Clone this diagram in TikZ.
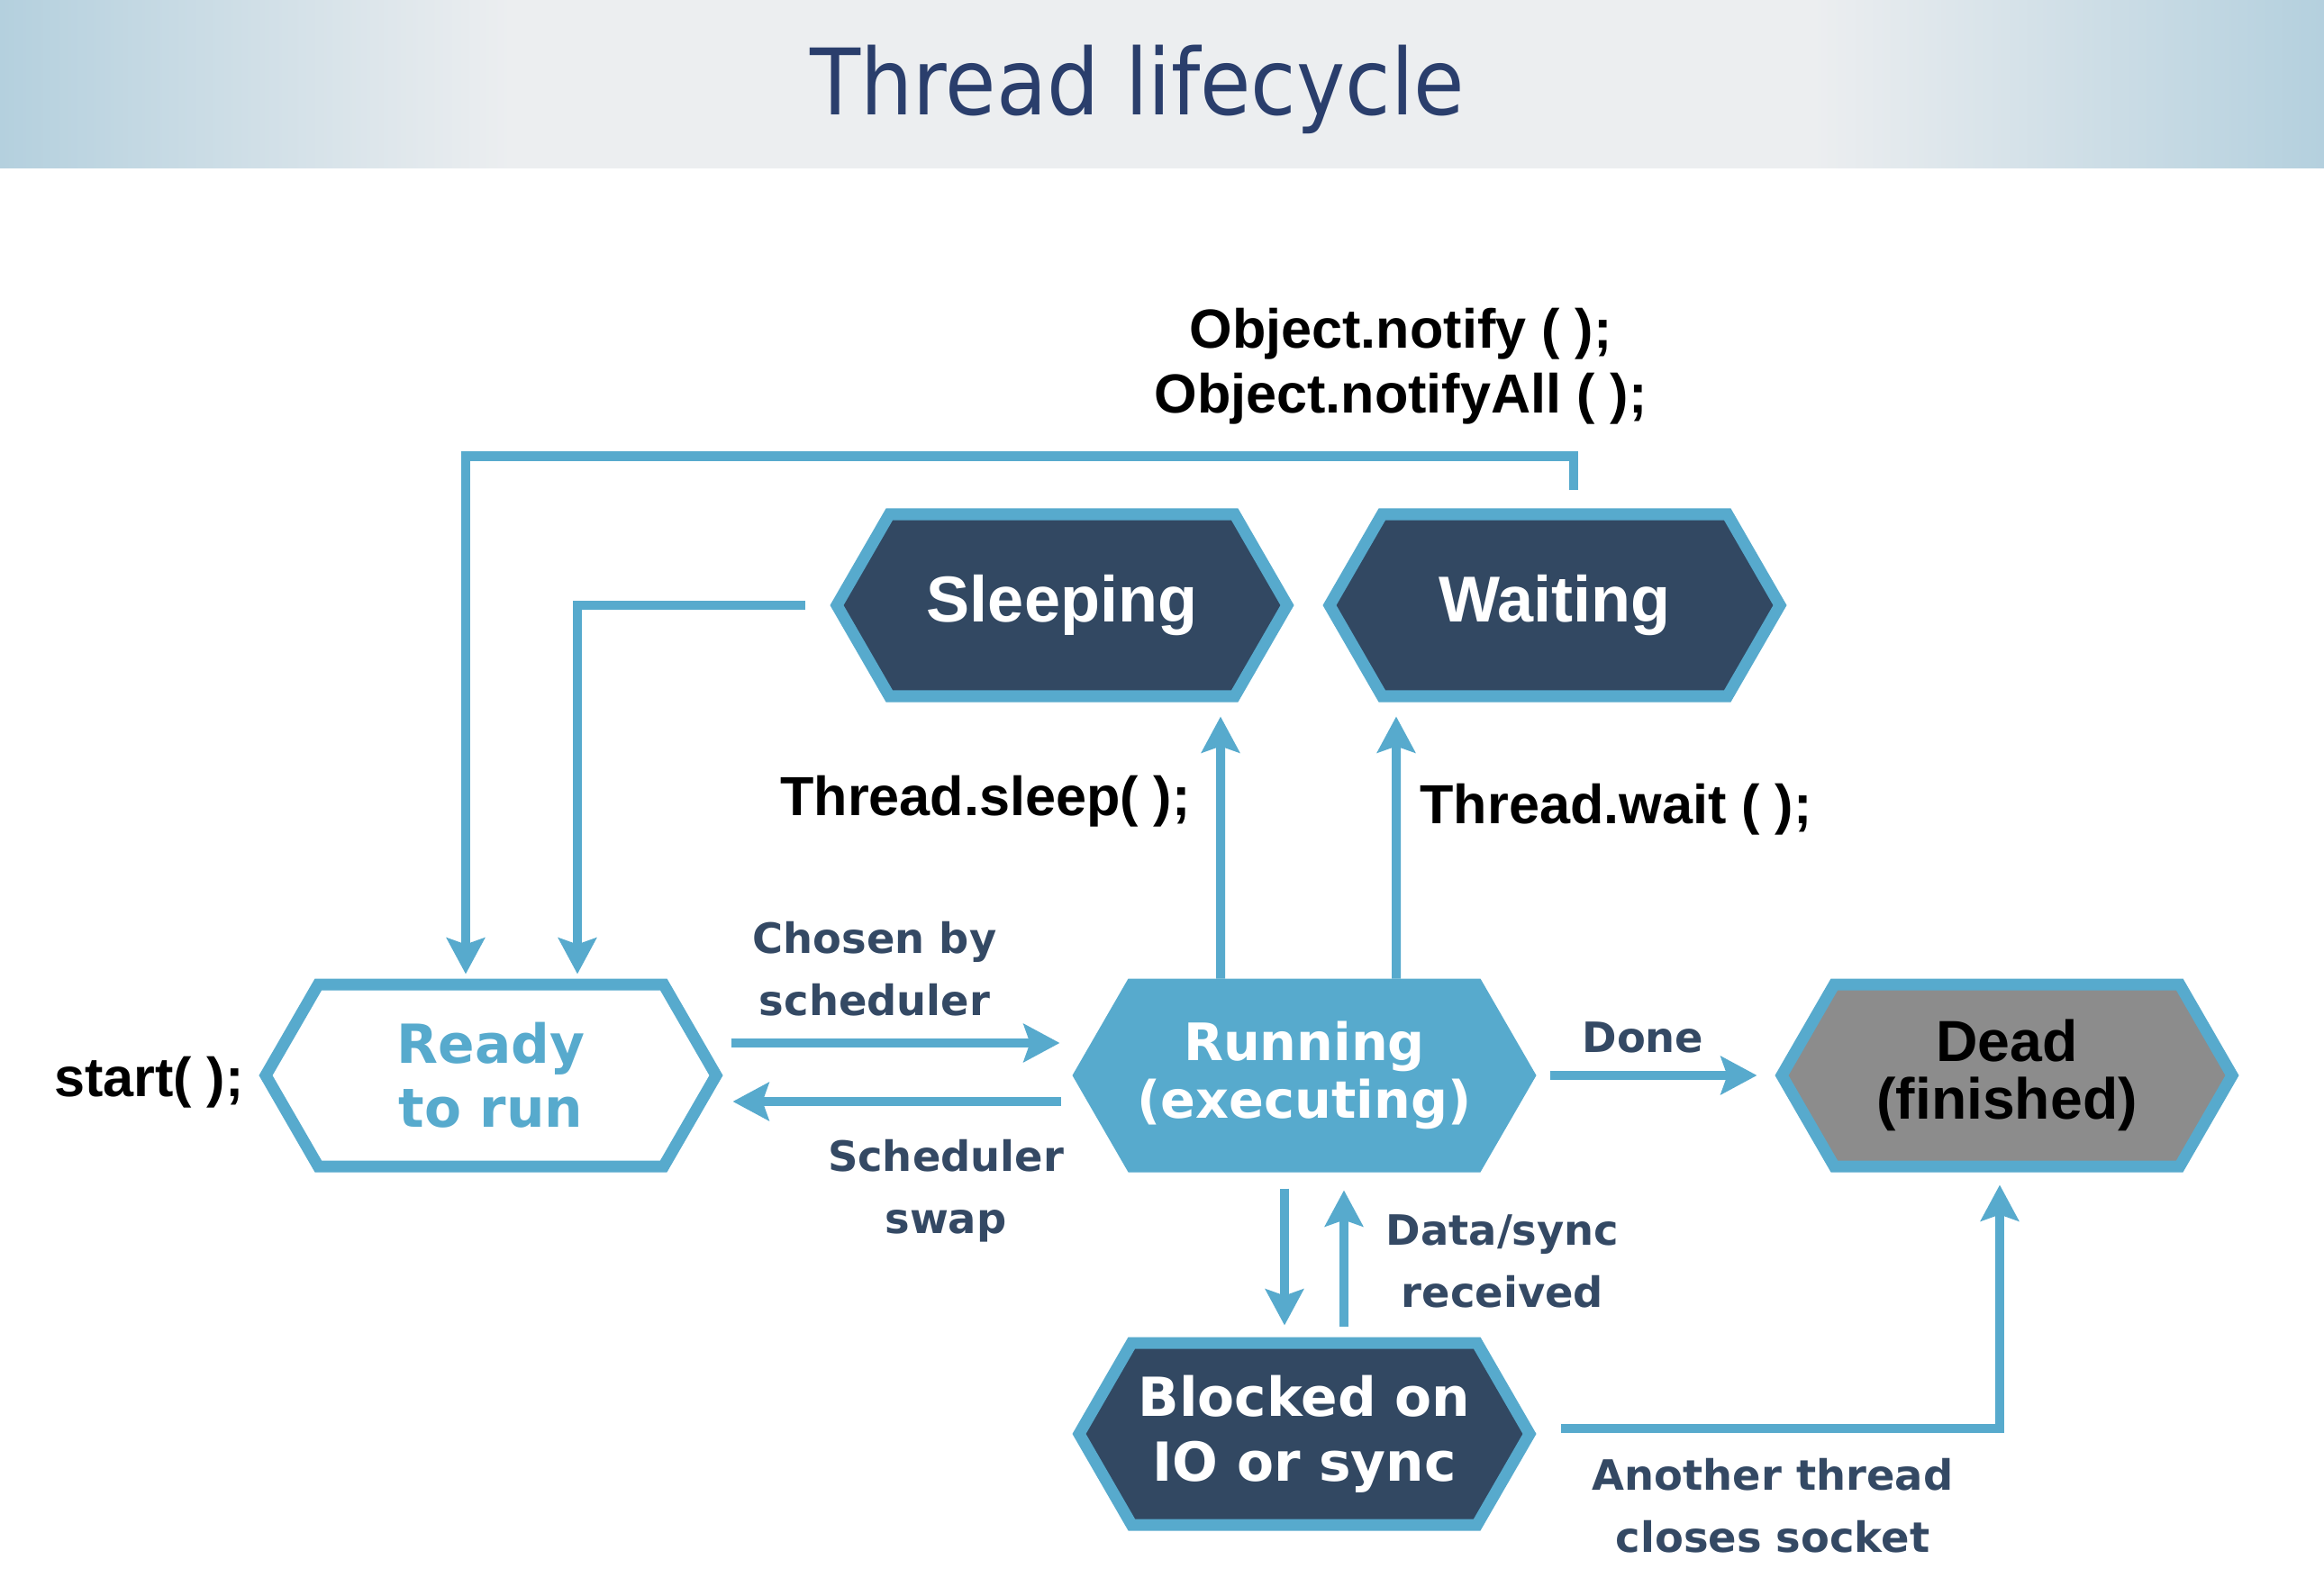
\documentclass[tikz,border=0pt]{standalone}
\usepackage{fontspec}
\setmainfont{Liberation Sans}
\newfontfamily\labelfont{DejaVu Sans}
\newfontfamily\boxfont{DejaVu Sans}
\newfontfamily\titlefont{DejaVu Sans Condensed}
\usepackage{tikz}
\usetikzlibrary{shapes.symbols, arrows.meta, positioning, calc}
\definecolor{tlblue}{RGB}{87,170,205}
\definecolor{tlnavy}{RGB}{50,72,98}
\definecolor{tltext}{RGB}{52,73,100}
\definecolor{tltitle}{RGB}{42,62,108}
\definecolor{tlgray}{RGB}{140,140,140}
\definecolor{bandedge}{RGB}{180,208,222}
\definecolor{bandmid}{RGB}{236,238,240}
\pgfdeclarehorizontalshading{bandshade}{100bp}{color(0bp)=(bandedge); color(25bp)=(bandedge);
  color(36bp)=(bandmid); color(64bp)=(bandmid); color(75bp)=(bandedge); color(100bp)=(bandedge)}
\tikzset{
  hexnode/.style={signal, signal to=east and west, signal pointer angle=120,
    minimum width=5.0cm, minimum height=2.02cm, align=center,
    draw=tlblue, line width=3.7pt, inner sep=0pt},
  readyhex/.style={hexnode, fill=white, text=tlblue,
    font=\boxfont\bfseries\fontsize{17}{20.2}\selectfont},
  runhex/.style={hexnode, fill=tlblue, text=white,
    font=\boxfont\bfseries\fontsize{16.3}{18.4}\selectfont},
  blockhex/.style={hexnode, fill=tlnavy, text=white,
    font=\boxfont\bfseries\fontsize{17}{20.5}\selectfont},
  sleephex/.style={hexnode, fill=tlnavy, text=white,
    font=\bfseries\fontsize{20.5}{24}\selectfont},
  deadhex/.style={hexnode, fill=tlgray, text=black,
    font=\bfseries\fontsize{18.3}{18.2}\selectfont},
  arrow/.style={-{Stealth[length=4mm, width=4.2mm, inset=0.7mm]}, line width=2.85pt, color=tlblue},
  codelbl/.style={font=\bfseries\fontsize{17.4}{20.5}\selectfont, align=center, inner sep=0pt},
  navylbl/.style={font=\labelfont\bfseries\fontsize{13.2}{19.6}\selectfont, text=tltext,
    align=center, inner sep=0pt},
  titletext/.style={font=\titlefont\fontsize{29}{35}\selectfont, text=tltitle, inner sep=0pt}
}

\begin{document}
\begin{tikzpicture}[node distance=0.3cm and 0.5cm]
  \useasboundingbox (0,0) rectangle (25.8,17.71);
  \fill[white] (0,0) rectangle (25.8,17.71);
  \fill[shading=bandshade] (0,15.84) rectangle (25.8,17.71);
  \node[titletext, anchor=base] (title) at (12.63,16.43) {Thread lifecycle};

  \node[readyhex] (rd) at (5.45,5.77) {Ready\\to run};
  \node[runhex] (rn) at (14.48,5.77) {Running\\(executing)};
  \node[deadhex] (dd) at (22.28,5.77) {Dead\\(finished)};
  \node[sleephex] (sl) at (11.79,10.99) {Sleeping};
  \node[sleephex] (wt) at (17.26,10.99) {Waiting};
  \node[blockhex] (bl) at (14.48,1.79) {Blocked on\\IO or sync};

  \node[codelbl, left=0.16cm of rd, yshift=-0.8mm] (st) {start( );};
  \node[codelbl] (ntf) at (15.55,13.64) {Object.notify ( );\\Object.notifyAll ( );};
  \node[codelbl] (slp) at (10.94,8.81) {Thread.sleep( );};
  \node[codelbl] (wtc) at (17.94,8.72) {Thread.wait ( );};
  \node[navylbl] (chs) at (9.71,6.95) {Chosen by\\scheduler};
  \node[navylbl] (swp) at (10.50,4.49) {Scheduler\\swap};
  \node[navylbl] (dn) at (18.24,6.19) {Done};
  \node[navylbl] (rcv) at (16.68,3.71) {Data/sync\\received};
  \node[navylbl] (cls) at (19.68,0.99) {Another thread\\closes socket};

  \draw[arrow] ([xshift=0.9mm,yshift=3.6mm]rd.east) -- ([xshift=-1.4mm,yshift=3.6mm]rn.west);
  \draw[arrow] ([xshift=-1.3mm,yshift=-2.9mm]rn.west) -- ([xshift=1.1mm,yshift=-2.9mm]rd.east);
  \draw[arrow] ([xshift=1.5mm]rn.east) -- ([xshift=-2mm]dd.west);
  \draw[arrow] ([xshift=-9.3mm]rn.north) -- ([xshift=17.6mm,yshift=-1.6mm]sl.south);
  \draw[arrow] ([xshift=10.2mm]rn.north) -- ([xshift=-17.6mm,yshift=-1.6mm]wt.south);
  \draw[arrow] ([xshift=-2.2mm,yshift=-1.8mm]rn.south) -- ([xshift=-2.2mm,yshift=1.3mm]bl.north);
  \draw[arrow] ([xshift=4.4mm,yshift=1.2mm]bl.north) -- ([xshift=4.4mm,yshift=-2mm]rn.south);
  \draw[arrow] ([xshift=2.7mm,yshift=0.6mm]bl.east) -| ([xshift=-0.8mm,yshift=-1.4mm]dd.south);
  \draw[arrow] ([xshift=-2.8mm]sl.west) -| ([xshift=9.6mm,yshift=0.5mm]rd.north);
  \draw[arrow] ([xshift=2.1mm,yshift=2mm]wt.north) -- ++(0,0.38) -| ([xshift=-2.8mm,yshift=0.5mm]rd.north);

\end{tikzpicture}
\end{document}
